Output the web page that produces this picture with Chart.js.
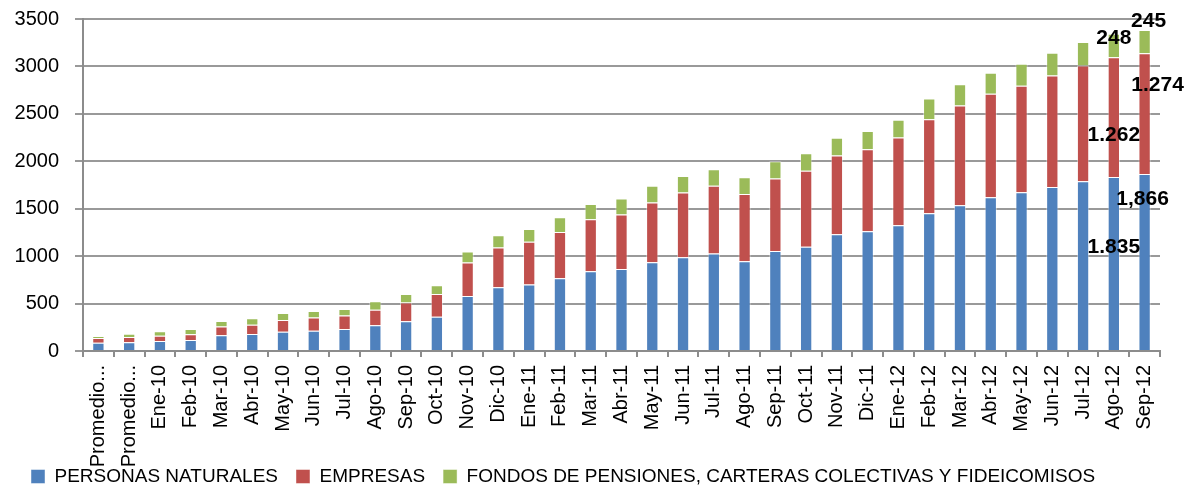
<!DOCTYPE html>
<html>
<head>
<meta charset="utf-8">
<script src="https://cdn.jsdelivr.net/npm/chart.js@4.4.1/dist/chart.umd.min.js"></script>
<style>
  body { margin: 0; background: #fff; }
</style>
</head>
<body>
<canvas id="myChart" width="1184" height="493"></canvas>
<script>
// categories and values
const categories = ['Promedio...', 'Promedio...', 'Ene-10', 'Feb-10', 'Mar-10', 'Abr-10', 'May-10', 'Jun-10', 'Jul-10', 'Ago-10', 'Sep-10', 'Oct-10', 'Nov-10', 'Dic-10',
    'Ene-11', 'Feb-11', 'Mar-11', 'Abr-11', 'May-11', 'Jun-11', 'Jul-11', 'Ago-11', 'Sep-11', 'Oct-11', 'Nov-11', 'Dic-11',
    'Ene-12', 'Feb-12', 'Mar-12', 'Abr-12', 'May-12', 'Jun-12', 'Jul-12', 'Ago-12', 'Sep-12'];

const personasNaturales = [88, 92, 105, 116, 165, 179, 204, 214, 232, 271, 313, 362, 580, 672, 700, 767, 841, 865, 936, 988,
    1027, 946, 1055, 1100, 1231, 1263, 1326, 1453, 1537, 1621, 1674, 1730, 1790, 1835, 1866];
const empresas = [49, 56, 57, 60, 92, 99, 123, 138, 141, 165, 197, 239, 352, 418, 453, 488, 548, 573, 629, 682,
    714, 710, 763, 799, 829, 865, 924, 991, 1051, 1090, 1122, 1174, 1220, 1262, 1274];
const fondos = [21, 35, 46, 56, 59, 67, 74, 70, 70, 88, 91, 92, 116, 130, 134, 155, 162, 169, 176, 176,
    176, 176, 183, 186, 187, 190, 187, 218, 225, 222, 232, 240, 247, 248, 245];

const seriesNames = ['PERSONAS NATURALES', 'EMPRESAS', 'FONDOS DE PENSIONES, CARTERAS COLECTIVAS Y FIDEICOMISOS'];
const yTicks = [0, 500, 1000, 1500, 2000, 2500, 3000, 3500];

// value labels shown on the last two bars
const labelTexts = [
    { series: 0, index: 33, text: '1.835' },
    { series: 1, index: 33, text: '1.262' },
    { series: 2, index: 33, text: '248' },
    { series: 0, index: 34, text: '1,866' },
    { series: 1, index: 34, text: '1.274' },
    { series: 2, index: 34, text: '245' }
];
// nudge from segment centre, as placed in the original
const labelOffsets = [[0, -16], [0, 18], [0, -7], [-2, -63], [13, -28], [4, -20]];

const FONT = '"Liberation Sans", Arial, sans-serif';

const barLabels = {
    id: 'barLabels',
    afterLayout(chart) {
        // let the long rotated category labels run past the axis box
        chart.scales.x.bottom = chart.height;
    },
    afterDatasetsDraw(chart) {
        const ctx = chart.ctx;
        ctx.save();
        ctx.font = 'bold 21px ' + FONT;
        ctx.fillStyle = '#000';
        ctx.textAlign = 'center';
        ctx.textBaseline = 'middle';
        labelTexts.forEach((item, k) => {
            const bar = chart.getDatasetMeta(item.series).data[item.index];
            const off = labelOffsets[k];
            ctx.fillText(item.text, bar.x + off[0], (bar.y + bar.base) / 2 + off[1]);
        });
        ctx.restore();
    }
};

const colors = ['#4F81BD', '#C0504D', '#9BBB59'];
const values = [personasNaturales, empresas, fondos];

const ctx = document.getElementById('myChart').getContext('2d');
const myChart = new Chart(ctx, {
    type: 'bar',
    data: {
        labels: categories,
        datasets: values.map((v, i) => ({
            label: seriesNames[i],
            data: v,
            backgroundColor: colors[i],
            borderColor: 'rgba(255,255,255,0.45)',
            borderWidth: 1,
            barPercentage: 0.4,
            categoryPercentage: 1
        }))
    },
    options: {
        responsive: false,
        animation: false,
        devicePixelRatio: 1,
        layout: { padding: { left: 13, right: 24, top: 19, bottom: -3 } },
        plugins: {
            tooltip: { enabled: false },
            legend: {
                position: 'bottom',
                align: 'start',
                labels: {
                    boxWidth: 14,
                    boxHeight: 14,
                    padding: 18,
                    color: '#000',
                    font: { family: FONT, size: 19 }
                }
            }
        },
        scales: {
            x: {
                stacked: true,
                afterFit: s => { s.height = 98; s.paddingLeft = 0; s.paddingRight = 0; s.paddingTop = 0; s.paddingBottom = 0; },
                grid: { drawOnChartArea: false, drawTicks: true, tickLength: 6, color: '#8c8c8c', lineWidth: 2 },
                border: { color: '#8c8c8c', width: 2 },
                ticks: {
                    color: '#000',
                    font: { family: FONT, size: 20 },
                    minRotation: 90,
                    maxRotation: 90,
                    autoSkip: false,
                    padding: 8
                }
            },
            y: {
                stacked: true,
                min: 0,
                max: 3500,
                afterFit: s => { s.width = 70; s.paddingTop = 0; s.paddingBottom = 0; },
                afterBuildTicks: s => { s.ticks = yTicks.map(v => ({ value: v })); },
                grid: { color: '#999999', lineWidth: 2, tickLength: 8 },
                border: { color: '#8c8c8c', width: 2 },
                ticks: {
                    color: '#000',
                    font: { family: FONT, size: 20 },
                    padding: 16,
                    callback: v => String(v)
                }
            }
        }
    },
    plugins: [barLabels]
});
</script>
</body>
</html>
